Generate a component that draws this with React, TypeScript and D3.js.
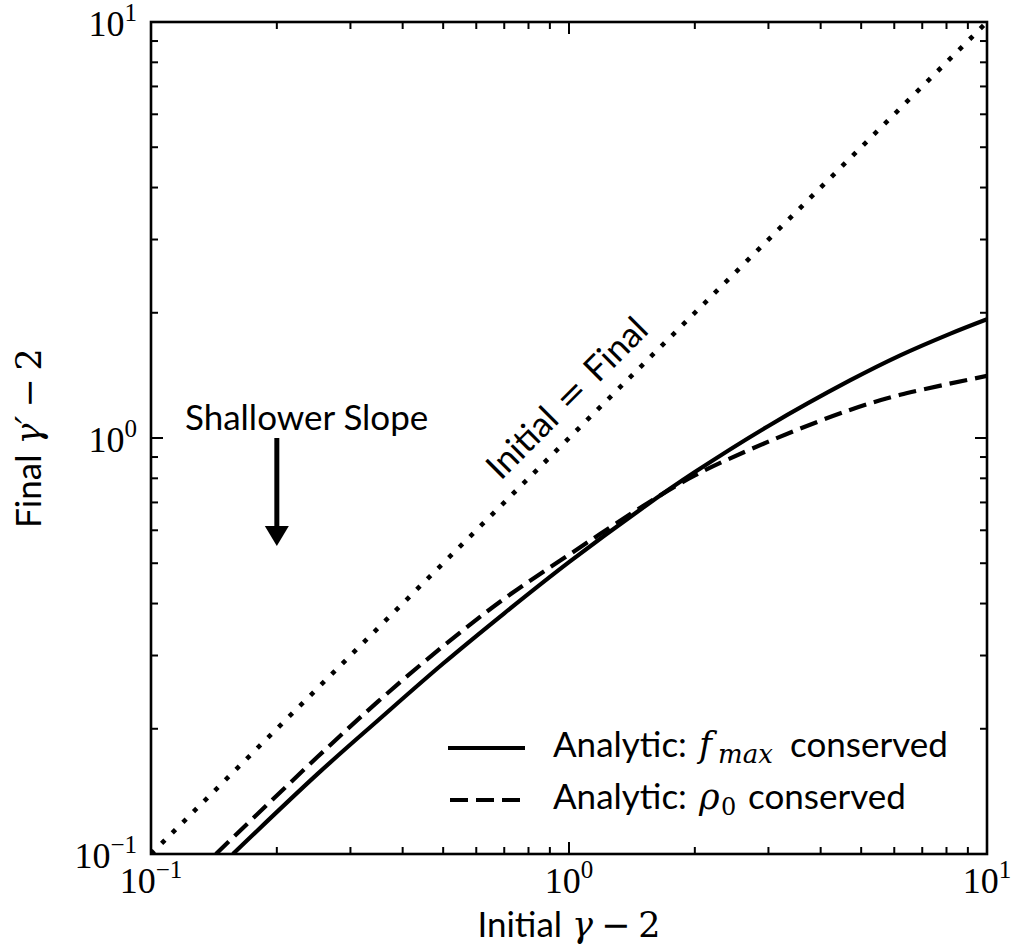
import React from 'react';
import * as d3 from 'd3';

// readings (initial gamma-2 -> final gamma'-2)
const fmaxX = [0.157, 0.25, 0.35, 0.5, 0.7, 1.0, 1.5, 2.0, 3.0, 4.7, 6.2, 8.15, 10];
const fmaxY = [0.1, 0.1556, 0.21, 0.287, 0.379, 0.503, 0.679, 0.828, 1.069, 1.375, 1.58, 1.78, 1.93];

const rhoX = [0.143, 0.25, 0.35, 0.5, 0.7, 1.0, 1.5, 2.0, 3.0, 4.7, 6.2, 10];
const rhoY = [0.1, 0.171, 0.233, 0.316, 0.411, 0.524, 0.685, 0.813, 0.98, 1.168, 1.27, 1.41];

const identity = [0.1, 10];
const decades = [0.1, 1, 10];
const decadeExp = ['\u22121', '0', '1'];

const W = 1014;
const H = 951;
const margin = { left: 151, right: 27, top: 22, bottom: 97 };

const SANS = 'Lato, "Liberation Sans", sans-serif';
const SERIF = '"Liberation Serif", "DejaVu Serif", serif';
const MATH = '"DejaVu Serif", "Liberation Serif", serif';

export default function App() {
  const x = d3.scaleLog().domain([0.1, 10]).range([margin.left, W - margin.right]);
  const y = d3.scaleLog().domain([0.1, 10]).range([H - margin.bottom, margin.top]);

  const [x0, x1] = x.range();
  const [y0, y1] = y.range();

  const line = d3
    .line<[number, number]>()
    .x((d) => x(d[0]))
    .y((d) => y(d[1]))
    .curve(d3.curveCatmullRom.alpha(0.5));

  const fmaxPts = fmaxX.map((v, i) => [v, fmaxY[i]] as [number, number]);
  const rhoPts = rhoX.map((v, i) => [v, rhoY[i]] as [number, number]);

  const minors: number[] = [];
  [0.1, 1].forEach((b) => {
    for (let k = 2; k <= 9; k++) minors.push(b * k);
  });

  const majorLen = 12;
  const minorLen = 7;

  // annotation positions (data units)
  const arrowX = 0.2;
  const arrowFrom = 1.0;
  const arrowTo = 0.55;
  const ax = x(arrowX);
  const ayTop = y(arrowFrom);
  const ayTip = y(arrowTo);

  const diagLabel = { x: 1.036, y: 1.19 };

  const dash = '18 8';

  return (
    <svg width={W} height={H} style={{ position: 'absolute', left: 0, top: 0, background: '#fff' }}>
      <defs>
        <clipPath id="plot">
          <rect x={x0} y={y1} width={x1 - x0} height={y0 - y1} />
        </clipPath>
      </defs>

      {/* curves */}
      <g clipPath="url(#plot)" fill="none" stroke="#000">
        <path
          d={line(identity.map((v) => [v, v] as [number, number])) || ''}
          strokeWidth={4.6}
          strokeDasharray="4.6 10.4"
        />
        <path d={line(fmaxPts) || ''} strokeWidth={4.2} />
        <path d={line(rhoPts) || ''} strokeWidth={4.2} strokeDasharray={dash} />
      </g>

      {/* ticks, inward on all four sides */}
      <g stroke="#000" strokeWidth={2}>
        {decades.map((d) => (
          <g key={'M' + d}>
            <line x1={x(d)} x2={x(d)} y1={y0} y2={y0 - majorLen} />
            <line x1={x(d)} x2={x(d)} y1={y1} y2={y1 + majorLen} />
            <line y1={y(d)} y2={y(d)} x1={x0} x2={x0 + majorLen} />
            <line y1={y(d)} y2={y(d)} x1={x1} x2={x1 - majorLen} />
          </g>
        ))}
        {minors.map((d) => (
          <g key={'m' + d}>
            <line x1={x(d)} x2={x(d)} y1={y0} y2={y0 - minorLen} />
            <line x1={x(d)} x2={x(d)} y1={y1} y2={y1 + minorLen} />
            <line y1={y(d)} y2={y(d)} x1={x0} x2={x0 + minorLen} />
            <line y1={y(d)} y2={y(d)} x1={x1} x2={x1 - minorLen} />
          </g>
        ))}
      </g>

      <rect x={x0} y={y1} width={x1 - x0} height={y0 - y1} fill="none" stroke="#000" strokeWidth={2.6} />

      {/* tick labels */}
      <g fontFamily={SERIF} fill="#000">
        {decades.map((d, i) => (
          <text key={'xl' + d} x={x(d)} y={y0 + 39} textAnchor="middle" fontSize={36}>
            10
            <tspan fontSize={25} dy={-15}>
              {decadeExp[i]}
            </tspan>
          </text>
        ))}
        {decades.map((d, i) => (
          <text key={'yl' + d} x={x0 - 14} y={y(d) + 14} textAnchor="end" fontSize={36}>
            10
            <tspan fontSize={25} dy={-15}>
              {decadeExp[i]}
            </tspan>
          </text>
        ))}
      </g>

      {/* axis labels */}
      <text x={(x0 + x1) / 2} y={937} textAnchor="middle" fontSize={35} fontFamily={SANS}>
        Initial
        <tspan fontFamily={MATH} fontStyle="italic" dx={10}>
          {'\u03b3'}
        </tspan>
        <tspan fontFamily={MATH} dx={8}>
          {'\u2212'}
        </tspan>
        <tspan fontFamily={MATH} dx={8}>
          2
        </tspan>
      </text>
      <text
        transform={`translate(41,${(y0 + y1) / 2}) rotate(-90)`}
        textAnchor="middle"
        fontSize={35}
        fontFamily={SANS}
      >
        Final
        <tspan fontFamily={MATH} fontStyle="italic" dx={10}>
          {'\u03b3\u2032'}
        </tspan>
        <tspan fontFamily={MATH} dx={8}>
          {'\u2212'}
        </tspan>
        <tspan fontFamily={MATH} dx={8}>
          2
        </tspan>
      </text>

      {/* identity label */}
      <text
        transform={`translate(${x(diagLabel.x)},${y(diagLabel.y)}) rotate(-45)`}
        textAnchor="middle"
        fontSize={35}
        fontFamily={SANS}
      >
        Initial
        <tspan fontFamily={MATH} dx={12}>
          =
        </tspan>
        <tspan dx={12}>Final</tspan>
      </text>

      {/* shallower slope arrow */}
      <text x={185} y={430} fontSize={35} fontFamily={SANS}>
        Shallower Slope
      </text>
      <line x1={ax} x2={ax} y1={ayTop} y2={ayTip - 18} stroke="#000" strokeWidth={5} />
      <path d={`M${ax - 12},${ayTip - 20} L${ax + 12},${ayTip - 20} L${ax},${ayTip} Z`} fill="#000" />

      {/* legend */}
      <g fontSize={35} fontFamily={SANS}>
        <line x1={448} x2={525} y1={748} y2={748} stroke="#000" strokeWidth={4.2} />
        <text y={757}>
          <tspan x={553}>Analytic:</tspan>
          <tspan x={699} fontFamily={MATH} fontStyle="italic">
            f
          </tspan>
          <tspan x={718} fontFamily={MATH} fontStyle="italic" fontSize={26} dy={6}>
            max
          </tspan>
          <tspan x={790} dy={-6}>
            conserved
          </tspan>
        </text>
        <line x1={450} x2={525} y1={800} y2={800} stroke="#000" strokeWidth={4.2} strokeDasharray={dash} />
        <text y={809}>
          <tspan x={553}>Analytic:</tspan>
          <tspan x={699} fontFamily={MATH} fontStyle="italic">
            {'\u03c1'}
          </tspan>
          <tspan x={721} fontFamily={MATH} fontSize={24} dy={6}>
            0
          </tspan>
          <tspan x={748} dy={-6}>
            conserved
          </tspan>
        </text>
      </g>
    </svg>
  );
}
